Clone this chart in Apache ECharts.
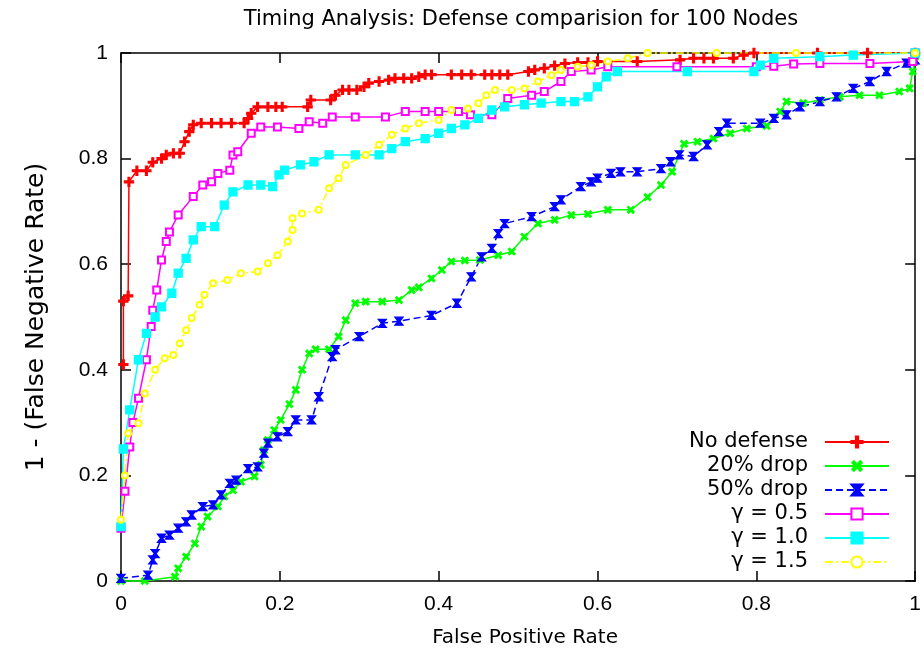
<!DOCTYPE html>
<html><head><meta charset="utf-8">
<script src="https://cdn.jsdelivr.net/npm/echarts@6/dist/echarts.min.js"></script>
<style>html,body{margin:0;padding:0;background:#fff}#c{width:924px;height:656px}</style>
</head><body><div id="c"></div>
<script>
const titleText = 'Timing Analysis: Defense comparision for 100 Nodes';
const xName = 'False Positive Rate';
const yName = '1 - (False Negative Rate)';
const seriesNames = ['No defense', '20% drop', '50% drop', 'γ = 0.5', 'γ = 1.0', 'γ = 1.5'];

const noDefense = [[0.003,0.41],[0.003,0.53],[0.009,0.54],[0.010,0.756],[0.020,0.777],[0.032,0.777],[0.040,0.793],[0.051,0.80],[0.057,0.807],[0.066,0.81],[0.074,0.81],[0.080,0.832],[0.086,0.851],[0.091,0.864],[0.101,0.867],[0.114,0.867],[0.126,0.867],[0.139,0.867],[0.155,0.867],[0.160,0.876],[0.164,0.886],[0.172,0.898],[0.185,0.898],[0.195,0.898],[0.203,0.898],[0.235,0.898],[0.239,0.911],[0.264,0.911],[0.270,0.920],[0.279,0.930],[0.287,0.930],[0.297,0.930],[0.306,0.936],[0.312,0.943],[0.325,0.946],[0.337,0.949],[0.345,0.952],[0.356,0.952],[0.366,0.952],[0.375,0.955],[0.383,0.959],[0.391,0.959],[0.416,0.959],[0.429,0.959],[0.441,0.959],[0.458,0.959],[0.467,0.959],[0.477,0.959],[0.487,0.959],[0.513,0.965],[0.521,0.968],[0.533,0.971],[0.546,0.976],[0.559,0.980],[0.575,0.982],[0.588,0.982],[0.600,0.984],[0.650,0.984],[0.704,0.987],[0.721,0.990],[0.734,0.990],[0.746,0.990],[0.771,0.990],[0.784,0.996],[0.797,1.0],[0.877,1.0],[0.94,1.0],[1.0,1.0]];

const drop20 = [[0,0],[0.03,0.0],[0.068,0.008],[0.072,0.024],[0.082,0.046],[0.093,0.071],[0.101,0.103],[0.109,0.122],[0.122,0.141],[0.130,0.160],[0.141,0.172],[0.151,0.188],[0.168,0.198],[0.176,0.22],[0.180,0.248],[0.185,0.267],[0.193,0.286],[0.201,0.305],[0.212,0.335],[0.220,0.362],[0.228,0.40],[0.237,0.431],[0.245,0.439],[0.262,0.439],[0.274,0.463],[0.283,0.494],[0.295,0.526],[0.308,0.529],[0.329,0.529],[0.35,0.532],[0.366,0.551],[0.375,0.556],[0.391,0.573],[0.404,0.589],[0.416,0.605],[0.433,0.607],[0.452,0.608],[0.475,0.617],[0.492,0.624],[0.508,0.652],[0.525,0.677],[0.546,0.684],[0.567,0.693],[0.588,0.695],[0.613,0.703],[0.642,0.703],[0.663,0.727],[0.680,0.75],[0.694,0.775],[0.709,0.828],[0.726,0.832],[0.746,0.838],[0.767,0.848],[0.788,0.857],[0.813,0.862],[0.830,0.889],[0.838,0.908],[0.859,0.905],[0.880,0.911],[0.905,0.917],[0.930,0.920],[0.955,0.92],[0.980,0.927],[0.993,0.933],[0.997,0.965],[1,0.985]];

const drop50 = [[0,0.005],[0.034,0.011],[0.040,0.040],[0.043,0.052],[0.051,0.081],[0.061,0.087],[0.072,0.10],[0.082,0.112],[0.089,0.125],[0.103,0.141],[0.116,0.144],[0.126,0.163],[0.137,0.185],[0.145,0.191],[0.16,0.213],[0.172,0.216],[0.180,0.242],[0.185,0.261],[0.197,0.273],[0.210,0.283],[0.220,0.305],[0.240,0.305],[0.249,0.349],[0.266,0.425],[0.270,0.438],[0.30,0.463],[0.329,0.488],[0.35,0.492],[0.391,0.503],[0.423,0.526],[0.441,0.576],[0.454,0.614],[0.467,0.630],[0.475,0.658],[0.483,0.677],[0.517,0.69],[0.546,0.709],[0.554,0.722],[0.579,0.747],[0.592,0.756],[0.600,0.763],[0.617,0.772],[0.629,0.775],[0.650,0.775],[0.680,0.781],[0.692,0.794],[0.703,0.807],[0.721,0.804],[0.738,0.826],[0.753,0.851],[0.763,0.867],[0.805,0.867],[0.822,0.876],[0.838,0.883],[0.855,0.898],[0.880,0.908],[0.901,0.917],[0.922,0.933],[0.943,0.946],[0.964,0.965],[0.989,0.981],[1,0.987]];

const gamma05 = [[0.000,0.10],[0.005,0.17],[0.011,0.254],[0.015,0.30],[0.022,0.346],[0.032,0.419],[0.038,0.482],[0.040,0.513],[0.045,0.551],[0.051,0.608],[0.057,0.643],[0.061,0.661],[0.072,0.693],[0.091,0.728],[0.103,0.75],[0.114,0.756],[0.122,0.772],[0.137,0.778],[0.141,0.807],[0.147,0.813],[0.164,0.848],[0.176,0.860],[0.197,0.860],[0.224,0.857],[0.237,0.870],[0.254,0.867],[0.266,0.879],[0.295,0.879],[0.333,0.879],[0.358,0.889],[0.383,0.889],[0.40,0.889],[0.425,0.889],[0.440,0.883],[0.467,0.883],[0.487,0.914],[0.517,0.920],[0.533,0.927],[0.554,0.946],[0.567,0.965],[0.592,0.968],[0.613,0.974],[0.70,0.974],[0.80,0.974],[0.822,0.975],[0.847,0.979],[0.880,0.98],[0.943,0.98],[0.997,0.984],[1,1]];

const gamma10 = [[0,0.103],[0.003,0.25],[0.011,0.324],[0.022,0.419],[0.032,0.469],[0.043,0.50],[0.051,0.519],[0.064,0.545],[0.072,0.583],[0.082,0.611],[0.091,0.646],[0.101,0.671],[0.118,0.671],[0.130,0.712],[0.141,0.737],[0.160,0.75],[0.176,0.75],[0.191,0.747],[0.199,0.769],[0.206,0.778],[0.226,0.788],[0.243,0.794],[0.262,0.807],[0.295,0.807],[0.325,0.807],[0.341,0.819],[0.358,0.832],[0.383,0.838],[0.40,0.848],[0.416,0.857],[0.433,0.864],[0.45,0.876],[0.467,0.892],[0.483,0.898],[0.508,0.902],[0.529,0.905],[0.554,0.908],[0.571,0.908],[0.588,0.917],[0.60,0.936],[0.611,0.955],[0.625,0.965],[0.713,0.965],[0.797,0.965],[0.805,0.977],[0.822,0.99],[0.880,0.993],[0.922,0.996],[1,1]];

const gamma15 = [[0,0.116],[0.005,0.2],[0.009,0.28],[0.022,0.299],[0.030,0.355],[0.043,0.40],[0.055,0.422],[0.066,0.428],[0.074,0.45],[0.082,0.475],[0.089,0.498],[0.099,0.523],[0.105,0.542],[0.116,0.564],[0.134,0.57],[0.151,0.583],[0.172,0.586],[0.185,0.602],[0.197,0.617],[0.210,0.643],[0.216,0.665],[0.216,0.687],[0.228,0.696],[0.249,0.703],[0.262,0.744],[0.274,0.763],[0.283,0.788],[0.308,0.807],[0.325,0.826],[0.341,0.845],[0.358,0.857],[0.375,0.867],[0.40,0.873],[0.416,0.892],[0.437,0.895],[0.45,0.905],[0.460,0.920],[0.471,0.930],[0.492,0.930],[0.508,0.933],[0.525,0.946],[0.542,0.958],[0.554,0.968],[0.575,0.974],[0.592,0.977],[0.613,0.984],[0.638,0.99],[0.663,1.0],[0.75,1.0],[0.85,1.0],[1.0,1.0]];

const seriesData = [noDefense, drop20, drop50, gamma05, gamma10, gamma15];
const colors = ['#ff0000', '#00ff00', '#0000ff', '#ff00ff', '#00ffff', '#ffff00'];
const plusPath = 'path://M4,0 H6 V4 H10 V6 H6 V10 H4 V6 H0 V4 H4 Z';
const hourglass = 'path://M0,0 H10 L6,5 L10,10 H0 L4,5 Z';
const symbols = [plusPath, plusPath, hourglass, 'emptyRect', 'rect', 'emptyCircle'];
const symbolRot = [0, 45, 0, 0, 0, 0];
const symbolSizes = [9, 8, 8, 7, 8, 6];
const lineTypes = ['solid', 'solid', [7, 4], 'solid', 'solid', [8, 3, 2, 3]];

const FONT = 'Liberation Sans';
const WFONT = 'DejaVu Sans';
const chart = echarts.init(document.getElementById('c'), null, {renderer: 'canvas'});

const axisCommon = {
  type: 'value', min: 0, max: 1, interval: 0.2,
  splitLine: {show: false},
  axisLine: {show: true, onZero: false, lineStyle: {color: '#000', width: 1.5}},
  axisTick: {show: true, inside: true, length: 10, lineStyle: {color: '#000', width: 1.5}}
};

chart.setOption({
  backgroundColor: '#fff',
  animation: false,
  title: {
    text: titleText, left: 516, top: 4, textAlign: 'center',
    textStyle: {fontFamily: WFONT, fontSize: 21, fontWeight: 'normal', color: '#000'}
  },
  grid: {left: 121, top: 53, right: 5, bottom: 75, containLabel: false},
  xAxis: [
    Object.assign({}, axisCommon, {
      position: 'bottom', name: xName, nameLocation: 'middle', nameGap: 47,
      nameTextStyle: {fontFamily: WFONT, fontSize: 20, color: '#000', padding: [0, 0, 0, 14]},
      axisLabel: {fontFamily: FONT, fontSize: 21, color: '#000', margin: 13}
    }),
    Object.assign({}, axisCommon, {position: 'top', axisLabel: {show: false}})
  ],
  yAxis: [
    Object.assign({}, axisCommon, {
      position: 'left', name: yName, nameLocation: 'middle', nameGap: 72, nameRotate: 90,
      nameTextStyle: {fontFamily: WFONT, fontSize: 25, color: '#000'},
      axisLabel: {fontFamily: FONT, fontSize: 21, color: '#000', margin: 13}
    }),
    Object.assign({}, axisCommon, {position: 'right', axisLabel: {show: false}})
  ],
  legend: {
    orient: 'vertical', align: 'right', right: 34, top: 430, padding: 0,
    itemWidth: 64, itemHeight: 14, itemGap: 0,
    textStyle: {fontFamily: WFONT, fontSize: 21, lineHeight: 24, color: '#000', padding: [0, 12, 0, 0]},
    data: seriesNames
  },
  series: seriesNames.map((name, i) => ({
    name: name, type: 'line', data: seriesData[i],
    xAxisIndex: 0, yAxisIndex: 0, clip: false,
    symbol: symbols[i], symbolSize: symbolSizes[i], symbolRotate: symbolRot[i],
    showAllSymbol: true,
    lineStyle: {color: colors[i], width: 1.5, type: lineTypes[i]},
    itemStyle: {color: colors[i], borderColor: colors[i], borderWidth: 1.3}
  }))
});
</script></body></html>
